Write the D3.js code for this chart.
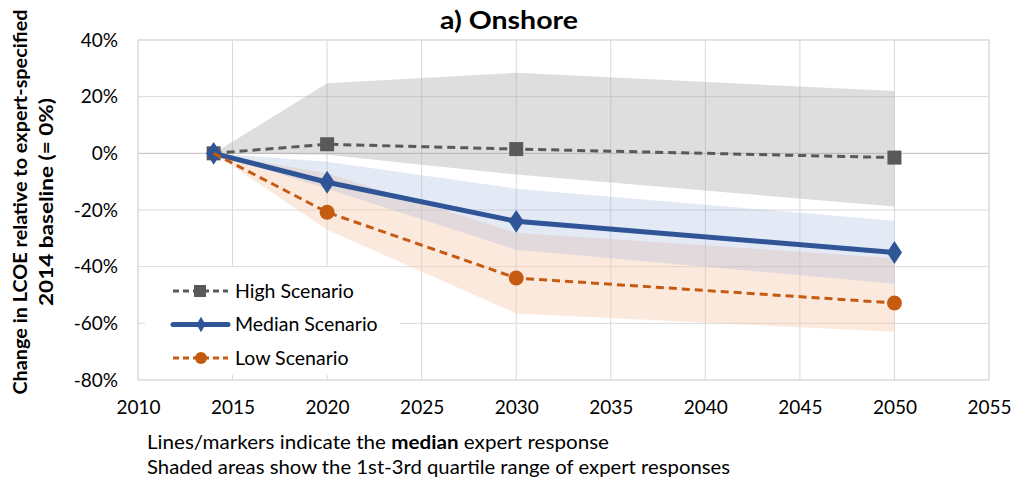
<!DOCTYPE html>
<html>
<head>
<meta charset="utf-8">
<title>Onshore LCOE</title>
<script src="https://d3js.org/d3.v7.min.js"></script>
<style>
  body { margin: 0; background: #fff; }
  text { font-family: Lato, "Open Sans", sans-serif; fill: #000; }
</style>
</head>
<body>
<div id="chart"></div>
<script>
// data (percent change vs 2014)
var years = [2014, 2020, 2030, 2050]
var high = [0, 3.2, 1.5, -1.5]
var median = [0, -10.2, -24, -35]
var low = [0, -20.8, -44, -52.8]
// 1st-3rd quartile bands
var highQ1 = [0, -0.5, -7.5, -18.8]
var highQ3 = [0, 24.7, 28.4, 22]
var medQ1 = [0, -12.5, -34, -46]
var medQ3 = [0, -3, -12.5, -23.8]
var lowQ1 = [0, -27, -56.5, -63]
var lowQ3 = [0, -7, -28, -37]
var xTicks = [2010, 2015, 2020, 2025, 2030, 2035, 2040, 2045, 2050, 2055]
var yTicks = [-80, -60, -40, -20, 0, 20, 40]
var legendNames = ["High Scenario", "Median Scenario", "Low Scenario"]

var W = 1014, H = 486
var margin = {top: 40, right: 25, bottom: 106, left: 138},
    width = W - margin.left - margin.right,
    height = H - margin.top - margin.bottom

var svg = d3.select("#chart").append("svg")
    .attr("width", W).attr("height", H)
var g = svg.append("g")
    .attr("transform", "translate(" + margin.left + "," + margin.top + ")")

var x = d3.scaleLinear().domain([2010, 2055]).range([0, width])
var y = d3.scaleLinear().domain([-80, 40]).range([height, 0])

// gridlines
g.selectAll(".vgrid").data(xTicks).enter().append("line")
    .attr("x1", d => x(d)).attr("x2", d => x(d))
    .attr("y1", 0).attr("y2", height)
    .style("stroke", "#d9d9d9").style("stroke-width", 1)
g.selectAll(".hgrid").data(yTicks).enter().append("line")
    .attr("x1", 0).attr("x2", width)
    .attr("y1", d => y(d)).attr("y2", d => y(d))
    .style("stroke", d => d === 0 ? "#bfbfbf" : "#d9d9d9").style("stroke-width", 1)

// shaded quartile bands
function bandData(q1, q3) {
    return years.map(function (yr, i) { return {x: yr, lo: q1[i], hi: q3[i]} })
}
var area = d3.area().x(d => x(d.x)).y0(d => y(d.lo)).y1(d => y(d.hi))
g.append("path").datum(bandData(highQ1, highQ3)).attr("d", area)
    .style("fill", "#a6a6a6").style("opacity", 0.37)
g.append("path").datum(bandData(lowQ1, lowQ3)).attr("d", area)
    .style("fill", "#f8cbad").style("opacity", 0.42)
g.append("path").datum(bandData(medQ1, medQ3)).attr("d", area)
    .style("fill", "#8faadc").style("opacity", 0.25)

// lines
var line = d3.line().x(d => x(d.x)).y(d => y(d.v))
function pts(vals) { return years.map(function (yr, i) { return {x: yr, v: vals[i]} }) }

var grey = "#595959", blue = "#2f5597", orange = "#c55a11"

g.append("path").datum(pts(high)).attr("d", line)
    .style("fill", "none").style("stroke", grey)
    .style("stroke-width", 3).style("stroke-dasharray", "8,5")
g.selectAll(".hm").data(pts(high)).enter().append("rect")
    .attr("x", d => x(d.x) - 7).attr("y", d => y(d.v) - 7)
    .attr("width", 14).attr("height", 14)
    .style("fill", grey)

g.append("path").datum(pts(median)).attr("d", line)
    .style("fill", "none").style("stroke", blue)
    .style("stroke-width", 5).style("stroke-linejoin", "round")
g.selectAll(".mm").data(pts(median)).enter().append("path")
    .attr("d", d3.symbol().type(d3.symbolDiamond).size(150))
    .attr("transform", d => "translate(" + x(d.x) + "," + y(d.v) + ") scale(1.15,1)")
    .style("fill", blue)

g.append("path").datum(pts(low)).attr("d", line)
    .style("fill", "none").style("stroke", orange)
    .style("stroke-width", 3).style("stroke-dasharray", "8,5")
g.selectAll(".lm").data(pts(low).filter(d => d.x !== years[0])).enter().append("circle")
    .attr("cx", d => x(d.x)).attr("cy", d => y(d.v)).attr("r", 7.5)
    .style("fill", orange)

// plot border
g.append("rect").attr("width", width).attr("height", height)
    .style("fill", "none").style("stroke", "#d9d9d9")

// axes
var yAxis = g.append("g")
    .call(d3.axisLeft(y).tickValues(yTicks).tickSize(0).tickPadding(20).tickFormat(d => d + "%"))
yAxis.select(".domain").remove()
yAxis.selectAll("text").style("font-size", "19px").style("font-family", "Lato")

var xAxis = g.append("g").attr("transform", "translate(0," + height + ")")
    .call(d3.axisBottom(x).tickValues(xTicks).tickSize(0).tickPadding(21).tickFormat(d3.format("d")))
xAxis.select(".domain").remove()
xAxis.selectAll("text").style("font-size", "19px").style("font-family", "Lato")

// legend
var leg = g.append("g").attr("transform", "translate(7,227)")
leg.append("rect").attr("width", 255).attr("height", 108).style("fill", "#fff")
var rows = leg.selectAll(".row").data(legendNames).enter().append("g")
    .attr("transform", (d, i) => "translate(0," + (24 + i * 33.5) + ")")
rows.append("line").attr("x1", 28).attr("x2", 83)
    .style("stroke", (d, i) => [grey, blue, orange][i])
    .style("stroke-width", (d, i) => i === 1 ? 5 : 3)
    .style("stroke-dasharray", (d, i) => i === 1 ? null : "6,4")
    .style("stroke-linecap", (d, i) => i === 1 ? "round" : "butt")
rows.filter((d, i) => i === 0).append("rect")
    .attr("x", 49).attr("y", -6).attr("width", 12).attr("height", 12).style("fill", grey)
rows.filter((d, i) => i === 1).append("path")
    .attr("d", d3.symbol().type(d3.symbolDiamond).size(70))
    .attr("transform", "translate(56,0)").style("fill", blue)
rows.filter((d, i) => i === 2).append("circle")
    .attr("cx", 56).attr("r", 6).style("fill", orange)
rows.append("text").attr("x", 90).attr("dy", "0.35em")
    .style("font-size", "19.5px").text(d => d)

// title
svg.append("text").attr("x", 509).attr("y", 29)
    .attr("text-anchor", "middle")
    .attr("textLength", 138).attr("lengthAdjust", "spacingAndGlyphs")
    .style("font-size", "25px").style("font-weight", "bold")
    .text("a) Onshore")

// y axis title
var yt = svg.append("text")
    .attr("transform", "translate(0,202) rotate(-90)")
    .attr("text-anchor", "middle")
    .style("font-size", "18.5px").style("font-weight", "bold")
yt.append("tspan").attr("x", 0).attr("y", 27)
    .attr("textLength", 385).attr("lengthAdjust", "spacingAndGlyphs")
    .text("Change in LCOE relative to expert-specified")
yt.append("tspan").attr("x", 0).attr("y", 53)
    .attr("textLength", 208).attr("lengthAdjust", "spacingAndGlyphs")
    .text("2014 baseline (= 0%)")

// footer notes
var f1 = svg.append("text").attr("x", 147).attr("y", 449).style("font-size", "19px")
    .attr("textLength", 462).attr("lengthAdjust", "spacingAndGlyphs")
f1.append("tspan").text("Lines/markers indicate the ")
f1.append("tspan").style("font-weight", "bold").text("median")
f1.append("tspan").text(" expert response")
svg.append("text").attr("x", 147).attr("y", 474).style("font-size", "19px")
    .attr("textLength", 583).attr("lengthAdjust", "spacingAndGlyphs")
    .text("Shaded areas show the 1st-3rd quartile range of expert responses")
</script>
</body>
</html>
